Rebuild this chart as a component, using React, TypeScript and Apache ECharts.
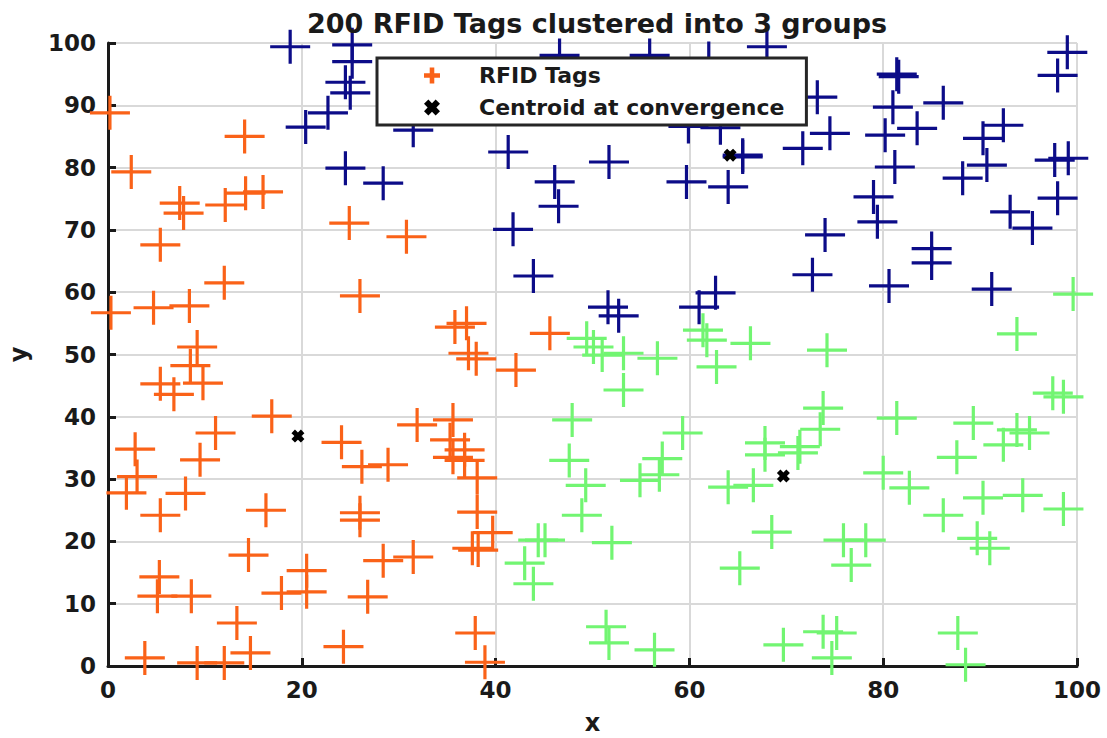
import React, { useEffect, useRef } from "react";
import * as echarts from "echarts";

const chartTitle = "200 RFID Tags clustered into 3 groups";
const xTicks = { min: 0, max: 100, interval: 20 };
const yTicks = { min: 0, max: 100, interval: 10 };

const orangeTags: number[][] = [
  [0.2, 88.8], [14.1, 85], [2.4, 79.3], [7.4, 74.3], [7.8, 72.7], [12.1, 74], [14.2, 75.9], [16, 76.1],
  [5.4, 67.6], [24.9, 71.1], [30.8, 68.9], [12, 61.5], [26, 59.4], [0.3, 56.7], [4.7, 57.5], [8.4, 57.8],
  [9.2, 51.2], [8.5, 48.2], [9.8, 45.4], [5.4, 45.3], [6.8, 43.6], [16.9, 40.1], [24.1, 35.9], [31.9, 38.7],
  [2.8, 34.8], [11.1, 37.4], [9.5, 33.1], [3, 30.4], [1.9, 27.8], [8, 27.7], [5.4, 24.2], [16.3, 25],
  [14.5, 17.8], [5.3, 14.3], [5.1, 11.2], [8.6, 11.2], [13.3, 6.9], [17.9, 11.7], [20.5, 15.3], [20.5, 11.9],
  [26.8, 11.1], [3.8, 1.3], [9.2, 0.5], [12, 0.5], [14.7, 2.1], [24.3, 3.1], [26.2, 32], [28.9, 32.3],
  [26, 24.6], [26, 23.4], [28.4, 16.9], [31.5, 17.5], [35.8, 54.4], [37, 55], [37.2, 50.2], [38, 49.3],
  [45.6, 53.4], [42.1, 47.5], [35.6, 39.5], [35.3, 36.3], [36.8, 34.7], [35.6, 33.5], [36.8, 33], [38.1, 30.2],
  [38.1, 24.7], [39.7, 21.4], [38.2, 18.6], [37.6, 18.9], [37.9, 5.3], [38.9, 0.6],
];

const blueTags: number[][] = [
  [18.8, 99.4], [25.2, 99.7], [25.2, 97], [24.5, 93.7], [25, 92], [22.7, 88.8], [20.4, 86.5], [24.5, 79.9],
  [28.4, 77.5], [31.5, 86], [46.6, 98], [55.9, 98], [62, 97.5], [68, 99.4], [81.4, 95], [81.6, 94.6],
  [81, 89.7], [99, 98.5], [98, 94.8], [73.2, 91.3], [86.2, 90.4], [92.4, 86.8], [90.3, 84.7], [74.5, 85.5],
  [71.7, 83.1], [80.2, 85.2], [83.5, 86.3], [65.5, 81.7], [81.2, 80.1], [88.2, 78.3], [90.7, 80.4], [97.7, 81.2],
  [99.1, 81.5], [98, 75.1], [79, 75.3], [79.4, 71.3], [93.1, 72.9], [95.4, 70.3], [74, 69.2], [85, 67],
  [85, 64.7], [72.7, 62.8], [80.6, 61], [91.2, 60.5], [41.3, 82.5], [46.1, 77.7], [46.5, 73.8], [51.7, 80.9],
  [41.8, 70.1], [59.7, 77.7], [64, 76.9], [65.5, 82], [63.2, 86.4], [59.9, 86.6], [43.9, 62.6], [51.6, 57.6],
  [52.7, 56.2], [61, 57.6], [62.7, 59.9],
];

const greenTags: number[][] = [
  [49.4, 52.6], [50.1, 51.2], [51, 49.9], [53.2, 50.2], [56.7, 49.4], [53.2, 44.3], [61.4, 53.9], [61.8, 52.3],
  [62.8, 48], [66.3, 51.8], [47.9, 39.5], [59.3, 37.4], [99.6, 59.7], [93.8, 53.3], [74.2, 50.7], [73.8, 41.4],
  [73.5, 38], [71.4, 35.2], [67.8, 35.8], [81.4, 39.8], [89.3, 39], [93.8, 37.9], [95.1, 37.4], [92.4, 35.5],
  [97.5, 43.8], [98.6, 43.2], [87.6, 33.5], [47.6, 33], [49.3, 29], [48.9, 24.2], [54.9, 29.8], [56.9, 30.7],
  [57.2, 33.3], [52, 19.8], [44.4, 20.2], [45.1, 20.2], [43, 16.5], [43.9, 13.2], [51.4, 6.3], [51.7, 3.7],
  [56.4, 2.6], [64, 28.7], [66.6, 29], [65.2, 15.7], [67.8, 33.9], [71.2, 34.2], [68.5, 21.5], [75.9, 20.2],
  [78.2, 20.2], [76.7, 16.2], [80, 31], [82.7, 28.6], [86.2, 24.2], [90.3, 27], [94.4, 27.4], [98.6, 25.2],
  [89.7, 20.5], [91, 18.9], [69.7, 3.4], [73.8, 5.5], [75.2, 5.3], [74.7, 1.3], [87.7, 5.3], [88.5, 0.2],
];

const centroids: number[][] = [
  [19.6, 36.9], [64.2, 82], [69.7, 30.5],
];

const seriesNames = ["RFID Tags", "Cluster 2", "Cluster 3", "Centroid at convergence"];
const seriesColors = ["#fa6218", "#0c0c88", "#72f572", "#000000"];

const FONT = "DejaVu Sans";
const plusPath = "path://M-20,-1.6L20,-1.6L20,1.6L-20,1.6Z M-1.6,-17L1.6,-17L1.6,17L-1.6,17Z";
const plusIcon = "path://M-7,-2L7,-2L7,2L-7,2Z M-2,-7L2,-7L2,7L-2,7Z";
const xPath =
  "path://M-2.5,-5.5L0,-3L2.5,-5.5L5.5,-2.5L3,0L5.5,2.5L2.5,5.5L0,3L-2.5,5.5L-5.5,2.5L-3,0L-5.5,-2.5Z";

export default function App() {
  const ref = useRef<HTMLDivElement>(null);

  useEffect(() => {
    if (!ref.current) return;
    const chart = echarts.init(ref.current, undefined, { renderer: "svg" });
    const axisCommon = {
      type: "value" as const,
      axisLine: { show: true, onZero: false, lineStyle: { color: "#1a1a1a", width: 3 } },
      axisTick: { show: true, inside: true, length: 8, lineStyle: { color: "#1a1a1a", width: 3 } },
      splitLine: { show: true, lineStyle: { color: "#d9d9d9", width: 2 } },
      axisLabel: { color: "#1a1a1a", fontFamily: FONT, fontWeight: "bold" as const, fontSize: 23, margin: 12 },
      nameTextStyle: { color: "#1a1a1a", fontFamily: FONT, fontWeight: "bold" as const, fontSize: 24, lineHeight: 26 },
      nameLocation: "middle" as const,
    };
    const tagSeries = [orangeTags, blueTags, greenTags].map((d, i) => ({
      name: seriesNames[i],
      type: "scatter" as const,
      data: d,
      symbol: plusPath,
      symbolSize: [40, 34],
      itemStyle: { color: seriesColors[i], opacity: 1 },
      emphasis: { disabled: true },
      z: 2,
    }));
    chart.setOption({
      animation: false,
      backgroundColor: "#ffffff",
      title: {
        text: chartTitle,
        left: 592,
        textAlign: "center",
        top: 5,
        textStyle: { fontFamily: FONT, fontWeight: "bold", fontSize: 27, color: "#1a1a1a" },
      },
      grid: { left: 108, top: 43, right: 30, bottom: 72, containLabel: false, outerBoundsMode: "none" },
      xAxis: { ...axisCommon, ...xTicks, name: "x", nameGap: 44 },
      yAxis: { ...axisCommon, ...yTicks, name: "y", nameGap: 76 },
      legend: {
        orient: "vertical",
        left: 377,
        top: 58,
        padding: [5, 22, 5, 47],
        itemGap: 7,
        itemWidth: 16,
        itemHeight: 16,
        borderColor: "#262626",
        borderWidth: 3,
        backgroundColor: "#ffffff",
        textStyle: { fontFamily: FONT, fontWeight: "bold", fontSize: 22, color: "#1a1a1a", padding: [0, 0, 0, 34], lineHeight: 25 },
        data: [
          { name: seriesNames[0], icon: plusIcon, itemStyle: { color: seriesColors[0] } },
          { name: seriesNames[3], icon: xPath, itemStyle: { color: seriesColors[3] } },
        ],
      },
      series: [
        ...tagSeries,
        {
          name: seriesNames[3],
          type: "scatter",
          data: centroids,
          symbol: xPath,
          symbolSize: 13,
          itemStyle: { color: seriesColors[3], opacity: 1 },
          emphasis: { disabled: true },
          z: 5,
        },
      ],
    });
    return () => chart.dispose();
  }, []);

  return <div ref={ref} style={{ position: "fixed", left: 0, top: 0, width: 1107, height: 738 }} />;
}
